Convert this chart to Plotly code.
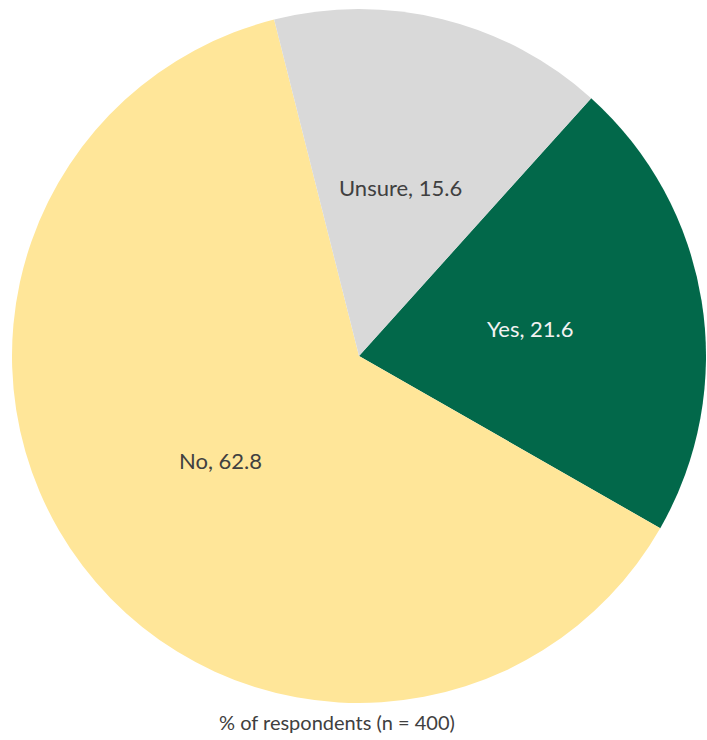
import math
import plotly.graph_objects as go

# Survey responses (% of respondents)
labels = ["Yes", "No", "Unsure"]
values = [21.6, 62.8, 15.6]
colors = ["#02684A", "#FFE699", "#D9D9D9"]
text_colors = ["#F2F2F2", "#404040", "#404040"]
caption = "% of respondents (n = 400)"

START_ANGLE = 42  # degrees clockwise from 12 o'clock where the first slice begins
LABEL_RADIUS = 0.5  # label distance from centre, as a fraction of the radius

W, H = 707, 740
ML, MR, MT, MB = 12, 1, 9, 37

fig = go.Figure(
    go.Pie(
        labels=labels,
        values=values,
        sort=False,
        direction="clockwise",
        rotation=START_ANGLE,
        marker=dict(colors=colors, line=dict(width=0)),
        textinfo="none",
        hoverinfo="label+value",
        showlegend=False,
        domain=dict(x=[0, 1], y=[0, 1]),
    )
)

# Place "label, value" at the middle of each slice
total = sum(values)
angle = START_ANGLE
annotations = []
for lab, val, tc in zip(labels, values, text_colors):
    span = 360.0 * val / total
    mid = math.radians(angle + span / 2)
    angle += span
    annotations.append(
        dict(
            x=0.5 + 0.5 * LABEL_RADIUS * math.sin(mid),
            y=0.5 + 0.5 * LABEL_RADIUS * math.cos(mid),
            xref="paper",
            yref="paper",
            text=f"{lab}, {val}",
            showarrow=False,
            font=dict(family="Lato", size=22, color=tc),
            xanchor="center",
            yanchor="middle",
        )
    )

annotations.append(
    dict(
        x=(337 - ML) / (W - ML - MR),
        y=(H - MB - 722) / (H - MT - MB),
        xref="paper",
        yref="paper",
        text=caption,
        showarrow=False,
        font=dict(family="Lato", size=20, color="#404040"),
        xanchor="center",
        yanchor="middle",
    )
)

fig.update_layout(
    width=W,
    height=H,
    margin=dict(l=ML, r=MR, t=MT, b=MB, pad=0),
    paper_bgcolor="white",
    plot_bgcolor="white",
    annotations=annotations,
)

fig.write_html("out.html")
